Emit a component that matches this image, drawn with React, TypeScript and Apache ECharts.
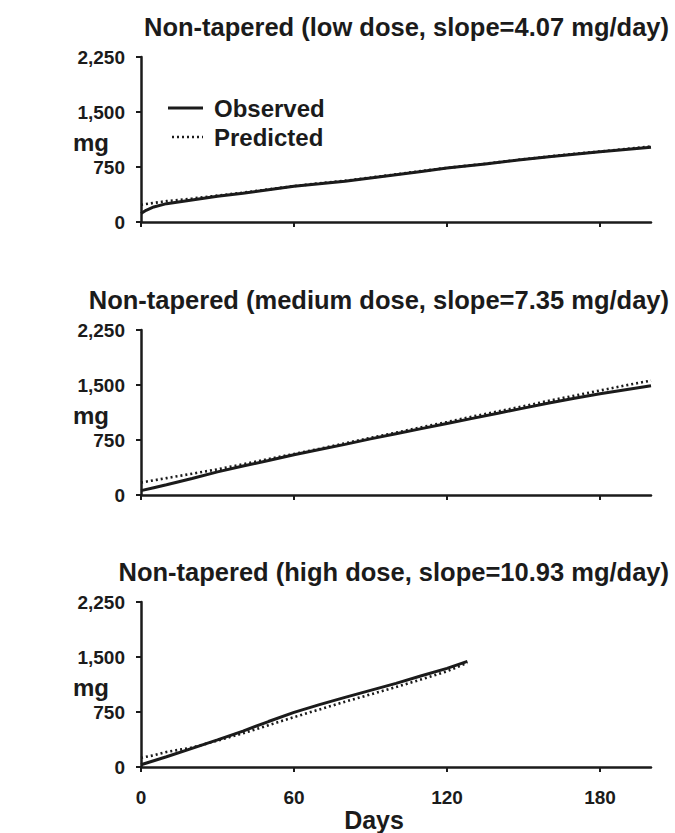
import React, { useEffect, useRef } from "react";
import * as echarts from "echarts";

// ---------- data ----------
const TITLES = [
  "Non-tapered (low dose, slope=4.07 mg/day)",
  "Non-tapered (medium dose, slope=7.35 mg/day)",
  "Non-tapered (high dose, slope=10.93 mg/day)",
];
const LEGEND_NAMES = ["Observed", "Predicted"];
const Y_TICKS = [0, 750, 1500, 2250];
const X_TICKS = [0, 60, 120, 180];

const DAYS_LOW = [0, 2, 5, 10, 20, 30, 40, 50, 60, 70, 80, 90, 100, 110, 120, 135, 148, 160, 170, 180, 190, 200];
const OBS_LOW = [115, 160, 205, 250, 300, 350, 393, 440, 486, 520, 556, 600, 645, 690, 735, 790, 845, 890, 925, 958, 990, 1020];
const PRED_LOW = [235, 245, 260, 285, 320, 360, 400, 445, 490, 528, 563, 605, 650, 695, 738, 795, 848, 893, 930, 962, 995, 1030];

const DAYS_MED = [0, 5, 10, 20, 30, 40, 50, 60, 70, 80, 90, 100, 110, 120, 130, 140, 150, 160, 170, 180, 190, 200];
const OBS_MED = [60, 100, 140, 225, 315, 395, 470, 550, 620, 690, 765, 835, 905, 975, 1045, 1115, 1185, 1255, 1320, 1380, 1435, 1490];
const PRED_MED = [170, 200, 230, 290, 350, 420, 490, 560, 630, 705, 780, 850, 925, 995, 1070, 1140, 1210, 1285, 1355, 1425, 1495, 1560];

const DAYS_HIGH = [0, 5, 10, 20, 30, 40, 50, 60, 70, 80, 90, 100, 110, 120, 128];
const OBS_HIGH = [30, 85, 140, 255, 370, 490, 620, 745, 850, 950, 1045, 1140, 1245, 1345, 1440];
const PRED_HIGH = [125, 160, 205, 265, 360, 460, 570, 680, 785, 890, 990, 1090, 1195, 1305, 1420];

const PANELS = [
  { days: DAYS_LOW, obs: OBS_LOW, pred: PRED_LOW },
  { days: DAYS_MED, obs: OBS_MED, pred: PRED_MED },
  { days: DAYS_HIGH, obs: OBS_HIGH, pred: PRED_HIGH },
];

// ---------- layout ----------
const W = 675;
const H = 833;
const GRID_TOPS = [57, 330, 602];
const GRID_H = 165;
const GRID_LEFT = 141;
const GRID_RIGHT = 24;
const FONT = "'Liberation Sans', Arial, Helvetica, sans-serif";
const INK = "#1b1b1b";
const PRED_DASH = [2, 3];

export default function App() {
  const ref = useRef<HTMLDivElement | null>(null);

  useEffect(() => {
    if (!ref.current) return;
    const chart = echarts.init(ref.current, null, { renderer: "svg" });

    const grid = GRID_TOPS.map((top) => ({
      left: GRID_LEFT,
      right: GRID_RIGHT,
      top,
      height: GRID_H,
      containLabel: false,
    }));

    const xAxis = GRID_TOPS.map((_, i) => ({
      type: "value",
      gridIndex: i,
      min: 0,
      max: 200,
      interval: 60,
      splitLine: { show: false },
      axisLine: { show: true, onZero: false, lineStyle: { color: INK, width: 2.5 } },
      axisTick: {
        show: true,
        inside: false,
        length: 5,
        lineStyle: { color: INK, width: 2 },
        customValues: X_TICKS,
      },
      axisLabel: {
        show: i === 2,
        customValues: X_TICKS,
        margin: 21,
        color: INK,
        fontFamily: FONT,
        fontWeight: "bold",
        fontSize: 19,
      },
    }));

    const yAxis = GRID_TOPS.map((_, i) => ({
      type: "value",
      gridIndex: i,
      min: 0,
      max: 2250,
      interval: 750,
      splitLine: { show: false },
      axisLine: { show: true, onZero: false, lineStyle: { color: INK, width: 2.5 } },
      axisTick: { show: true, inside: false, length: 5, lineStyle: { color: INK, width: 2 } },
      axisLabel: {
        margin: 16,
        color: INK,
        fontFamily: FONT,
        fontWeight: "bold",
        fontSize: 19,
        formatter: (v: number) => (Y_TICKS.includes(v) ? v.toLocaleString("en-US") : ""),
      },
    }));

    const series: any[] = [];
    PANELS.forEach((p, i) => {
      series.push({
        name: LEGEND_NAMES[0],
        type: "line",
        xAxisIndex: i,
        yAxisIndex: i,
        symbol: "none",
        showSymbol: false,
        data: p.days.map((d, k) => [d, p.obs[k]]),
        lineStyle: { color: INK, width: 3, type: "solid" },
        itemStyle: { color: INK },
        z: 2,
      });
      series.push({
        name: LEGEND_NAMES[1],
        type: "line",
        xAxisIndex: i,
        yAxisIndex: i,
        symbol: "none",
        showSymbol: false,
        data: p.days.map((d, k) => [d, p.pred[k]]),
        lineStyle: { color: INK, width: 2.6, type: PRED_DASH },
        itemStyle: { color: INK },
        z: 3,
      });
    });

    const graphic: any[] = [];
    TITLES.forEach((t, i) => {
      graphic.push({
        type: "text",
        x: 669,
        y: GRID_TOPS[i] - 30,
        style: {
          text: t,
          fill: INK,
          font: `bold 25.5px ${FONT}`,
          textAlign: "right",
          textVerticalAlign: "middle",
        },
      });
      graphic.push({
        type: "text",
        x: 91,
        y: GRID_TOPS[i] + GRID_H / 2 + 3,
        style: {
          text: "mg",
          fill: INK,
          font: `bold 24px ${FONT}`,
          textAlign: "center",
          textVerticalAlign: "middle",
        },
      });
    });
    graphic.push({
      type: "text",
      x: 374,
      y: 820,
      style: {
        text: "Days",
        fill: INK,
        font: `bold 25px ${FONT}`,
        textAlign: "center",
        textVerticalAlign: "middle",
      },
    });

    // legend (drawn as line samples + labels)
    graphic.push({
      type: "line",
      shape: { x1: 168, y1: 108, x2: 203, y2: 108 },
      style: { stroke: INK, lineWidth: 3 },
    });
    graphic.push({
      type: "line",
      shape: { x1: 172, y1: 137, x2: 203, y2: 137 },
      style: { stroke: INK, lineWidth: 2.6, lineDash: PRED_DASH },
    });
    LEGEND_NAMES.forEach((name, k) => {
      graphic.push({
        type: "text",
        x: 214,
        y: 108 + k * 29,
        style: {
          text: name,
          fill: INK,
          font: `bold 24px ${FONT}`,
          textAlign: "left",
          textVerticalAlign: "middle",
        },
      });
    });

    chart.setOption({
      animation: false,
      backgroundColor: "#ffffff",
      grid,
      xAxis,
      yAxis,
      series,
      graphic,
    });

    return () => chart.dispose();
  }, []);

  return (
    <div
      ref={ref}
      style={{ position: "absolute", left: 0, top: 0, width: W, height: H, background: "#fff" }}
    />
  );
}
